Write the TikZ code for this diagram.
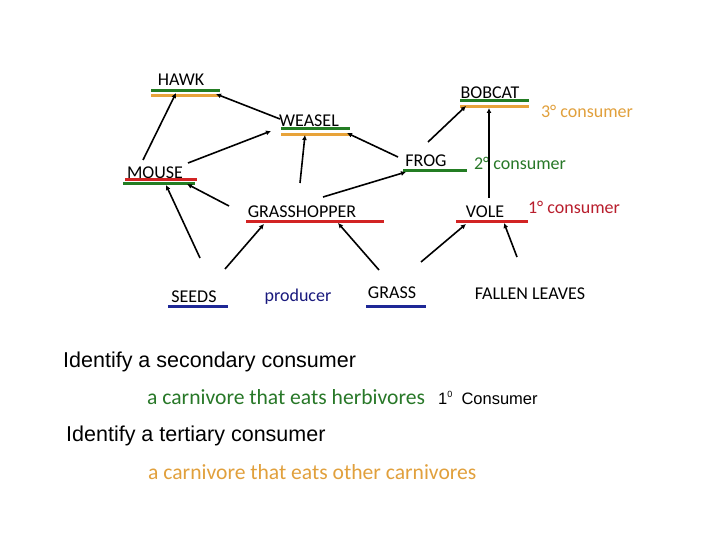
\documentclass[tikz,border=0pt]{standalone}
\usepackage{fontspec}
\setmainfont{Carlito}
\newfontfamily\arialf{Liberation Sans}
\usetikzlibrary{arrows.meta}
\definecolor{lgreen}{RGB}{35,125,35}
\definecolor{lorange}{RGB}{232,163,58}
\definecolor{lred}{RGB}{210,35,35}
\definecolor{lblue}{RGB}{30,40,150}
\definecolor{tgreen}{RGB}{40,120,40}
\definecolor{torange}{RGB}{225,160,60}
\definecolor{tred}{RGB}{185,30,45}
\definecolor{tnavy}{RGB}{25,25,125}
\tikzset{
  lab/.style={font=\fontsize{18}{21}\selectfont, inner sep=0pt, anchor=center},
  bar/.style={line width=3pt},
  arr/.style={line width=1.6pt, -{Latex[length=5pt,width=5pt]}},
  big/.style={font=\arialf\fontsize{21.5}{24}\selectfont, inner sep=0pt, anchor=west},
  mid/.style={font=\fontsize{21.6}{24}\selectfont, inner sep=0pt, anchor=west},
  lvl/.style={font=\fontsize{18}{21}\selectfont, inner sep=0pt, anchor=center}
}
\begin{document}
\begin{tikzpicture}[x=1pt,y=-1pt]
\useasboundingbox[fill=white] (0,0) rectangle (720,540);
% labels
\node[lab] (hawk) at (181,80) {HAWK};
\node[lab] (bobcat) at (490,93) {BOBCAT};
\node[lab] (weasel) at (309,121) {WEASEL};
\node[lab] (frog) at (426,161) {FROG};
\node[lab] (mouse) at (155,173) {MOUSE};
\node[lab] (grasshopper) at (302,212) {GRASSHOPPER};
\node[lab] (vole) at (485,212) {VOLE};
\node[lab] (seeds) at (194,297) {SEEDS};
\node[lab, text=tnavy] (producer) at (298,297) {producer};
\node[lab] (grass) at (392,293) {GRASS};
\node[lab] (leaves) at (530,294) {FALLEN LEAVES};
\node[lvl, text=torange] (c3) at (587,111) {3° consumer};
\node[lvl, text=tgreen] (c2) at (520,163) {2° consumer};
\node[lvl, text=tred] (c1) at (574,207) {1° consumer};
% bars
\draw[bar, lgreen] (151,90.5) -- (220,90.5);
\draw[bar, lorange] (151,95.5) -- (220,95.5);
\draw[bar, lgreen] (460,101) -- (529,101);
\draw[bar, lorange] (460,107) -- (529,107);
\draw[bar, lgreen] (281,129) -- (350,129);
\draw[bar, lorange] (281,135) -- (350,135);
\draw[bar, lgreen] (403,171) -- (467,171);
\draw[bar, lgreen] (123,183.5) -- (195,183.5);
\draw[bar, lred] (125,180) -- (197,180);
\draw[bar, lred] (246,222) -- (384,222);
\draw[bar, lred] (456,222) -- (528,222);
\draw[bar, lblue] (168,306) -- (228,306);
\draw[bar, lblue] (366,306) -- (426,306);
% arrow end points
\coordinate (m1) at (143,160); \coordinate (h1) at (176,93);
\coordinate (w1) at (280,119); \coordinate (h2) at (216,94);
\coordinate (m2) at (188,163); \coordinate (w2) at (271,131);
\coordinate (f1) at (398,157); \coordinate (w3) at (347,133);
\coordinate (f2) at (428,142); \coordinate (b1) at (466,106);
\coordinate (g1) at (300,183); \coordinate (w4) at (305,135);
\coordinate (g2) at (323,197); \coordinate (f3) at (406,172);
\coordinate (v1) at (489,198); \coordinate (b2) at (489,108);
\coordinate (g3) at (229,206); \coordinate (m3) at (187,184);
\coordinate (s1) at (200,258); \coordinate (m4) at (166,185);
\coordinate (s2) at (225,269); \coordinate (g4) at (264,224);
\coordinate (r1) at (379,270); \coordinate (g5) at (338,223);
\coordinate (r2) at (421,262); \coordinate (v2) at (466,224);
\coordinate (l1) at (517,257); \coordinate (v3) at (504,223);
\draw[arr] (m1) -- (h1);
\draw[arr] (w1) -- (h2);
\draw[arr] (m2) -- (w2);
\draw[arr] (f1) -- (w3);
\draw[arr] (f2) -- (b1);
\draw[arr] (g1) -- (w4);
\draw[arr] (g2) -- (f3);
\draw[arr] (v1) -- (b2);
\draw[arr] (g3) -- (m3);
\draw[arr] (s1) -- (m4);
\draw[arr] (s2) -- (g4);
\draw[arr] (r1) -- (g5);
\draw[arr] (r2) -- (v2);
\draw[arr] (l1) -- (v3);
% questions
\node[big] (q1) at (63,362) {Identify a secondary consumer};
\node[mid, text=tgreen] (a1) at (147,397) {a carnivore that eats herbivores};
\node[font=\arialf\fontsize{16.5}{18}\selectfont, inner sep=0pt, anchor=west] (a1b) at (438,398) {1\raisebox{0.45em}{\fontsize{9}{10}\selectfont 0}\ \ Consumer};
\node[big] (q2) at (66,436) {Identify a tertiary consumer};
\node[mid, text=torange] (a2) at (148,472) {a carnivore that eats other carnivores};
\end{tikzpicture}
\end{document}
